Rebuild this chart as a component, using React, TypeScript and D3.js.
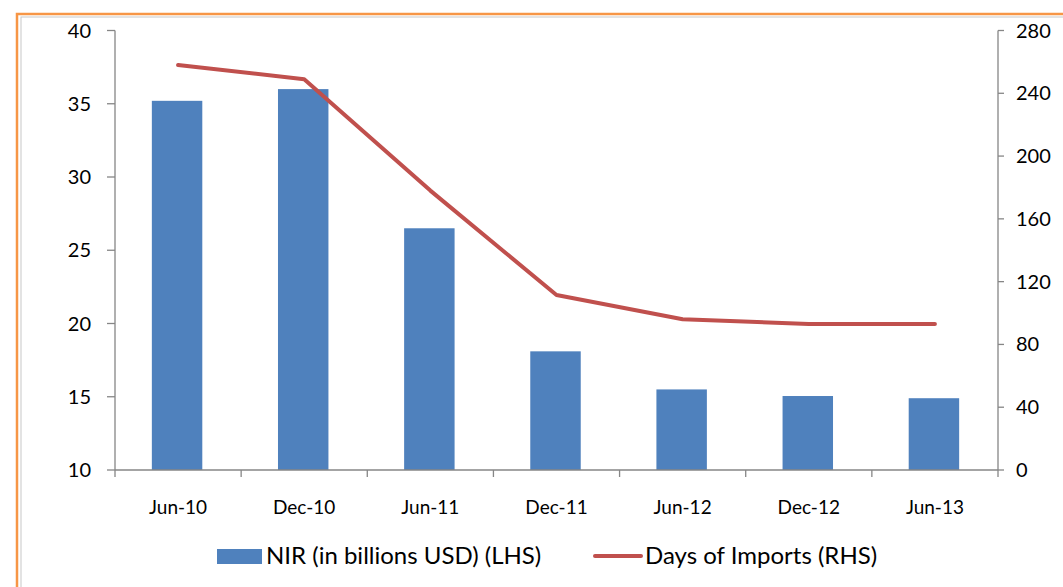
import React, { useEffect, useRef } from "react";
import * as d3 from "d3";

const categories = ["Jun-10", "Dec-10", "Jun-11", "Dec-11", "Jun-12", "Dec-12", "Jun-13"];
const nirValues = [35.2, 36.0, 26.5, 18.1, 15.5, 15.05, 14.9];
const daysValues = [258, 249, 178, 111.5, 96, 93, 93];
const leftTicks = [10, 15, 20, 25, 30, 35, 40];
const rightTicks = [0, 40, 80, 120, 160, 200, 240, 280];

const W = 1063;
const H = 587;
const FONT = "Lato, 'Open Sans', sans-serif";

const App = () => {
  const ref = useRef<SVGSVGElement>(null);

  useEffect(() => {
    const svg = d3.select(ref.current);
    svg.selectAll("*").remove();

    const left = 115;
    const right = 998;
    const top = 30.5;
    const bottom = 470;
    const axisColor = "#868686";

    // frame
    svg.append("rect").attr("x", 17).attr("y", 14).attr("width", 1200).attr("height", 800)
      .attr("fill", "none").attr("stroke", "#F79646").attr("stroke-width", 2.5);
    svg.append("rect").attr("x", 21).attr("y", 17).attr("width", 1200).attr("height", 800)
      .attr("fill", "none").attr("stroke", "#c8c8c8").attr("stroke-width", 1);

    const x = d3.scaleBand().domain(categories).range([left, right]).paddingInner(0).paddingOuter(0);
    const yL = d3.scaleLinear().domain([10, 40]).range([bottom, top]);
    const yR = d3.scaleLinear().domain([0, 280]).range([bottom, top]);

    const bw = x.bandwidth() / 2.5;

    svg.append("g").selectAll("rect").data(categories).enter().append("rect")
      .attr("x", (d) => x(d)! + x.bandwidth() / 2 - bw / 2 - 1)
      .attr("width", bw)
      .attr("y", (d, i) => yL(nirValues[i]))
      .attr("height", (d, i) => bottom - yL(nirValues[i]))
      .attr("fill", "#4F81BD");

    // axes
    const g = svg.append("g").attr("stroke", axisColor).attr("stroke-width", 1.3).attr("fill", "none");
    g.append("line").attr("x1", left).attr("x2", left).attr("y1", top).attr("y2", bottom);
    g.append("line").attr("x1", right).attr("x2", right).attr("y1", top).attr("y2", bottom);
    g.append("line").attr("x1", left).attr("x2", right).attr("y1", bottom).attr("y2", bottom);
    leftTicks.forEach((t) => {
      g.append("line").attr("x1", left - 8).attr("x2", left).attr("y1", yL(t)).attr("y2", yL(t));
    });
    rightTicks.forEach((t) => {
      g.append("line").attr("x1", right).attr("x2", right + 6).attr("y1", yR(t)).attr("y2", yR(t));
    });
    const bounds = categories.map((c) => x(c)!).concat([right]);
    bounds.forEach((b) => {
      g.append("line").attr("x1", b).attr("x2", b).attr("y1", bottom).attr("y2", bottom + 7);
    });

    const txt = svg.append("g").attr("font-family", FONT).attr("fill", "#000");
    leftTicks.forEach((t) => {
      txt.append("text").attr("x", 91).attr("y", yL(t)).attr("dy", "0.35em")
        .attr("text-anchor", "end").attr("font-size", 20).text(t);
    });
    rightTicks.forEach((t) => {
      txt.append("text").attr("x", 1016).attr("y", yR(t)).attr("dy", "0.35em")
        .attr("text-anchor", "start").attr("font-size", 20).text(t);
    });
    categories.forEach((c) => {
      txt.append("text").attr("x", x(c)! + x.bandwidth() / 2).attr("y", 507).attr("dy", "0.35em")
        .attr("text-anchor", "middle").attr("font-size", 19).text(c);
    });

    // line
    const line = d3.line<number>()
      .x((d, i) => x(categories[i])! + x.bandwidth() / 2)
      .y((d) => yR(d));
    svg.append("path").datum(daysValues).attr("d", line)
      .attr("fill", "none").attr("stroke", "#C0504D").attr("stroke-width", 4)
      .attr("stroke-linecap", "round").attr("stroke-linejoin", "round");

    // legend
    svg.append("rect").attr("x", 217).attr("y", 549).attr("width", 45).attr("height", 15).attr("fill", "#4F81BD");
    txt.append("text").attr("x", 266).attr("y", 556).attr("dy", "0.35em").attr("font-size", 24)
      .text("NIR (in billions USD) (LHS)");
    svg.append("line").attr("x1", 595).attr("x2", 641).attr("y1", 556).attr("y2", 556)
      .attr("stroke", "#C0504D").attr("stroke-width", 4).attr("stroke-linecap", "round");
    txt.append("text").attr("x", 645).attr("y", 556).attr("dy", "0.35em").attr("font-size", 24)
      .text("Days of Imports (RHS)");
  }, []);

  return (
    <svg ref={ref} width={W} height={H}
      style={{ position: "absolute", left: 0, top: 0, background: "#fff" }} />
  );
};

export default App;
